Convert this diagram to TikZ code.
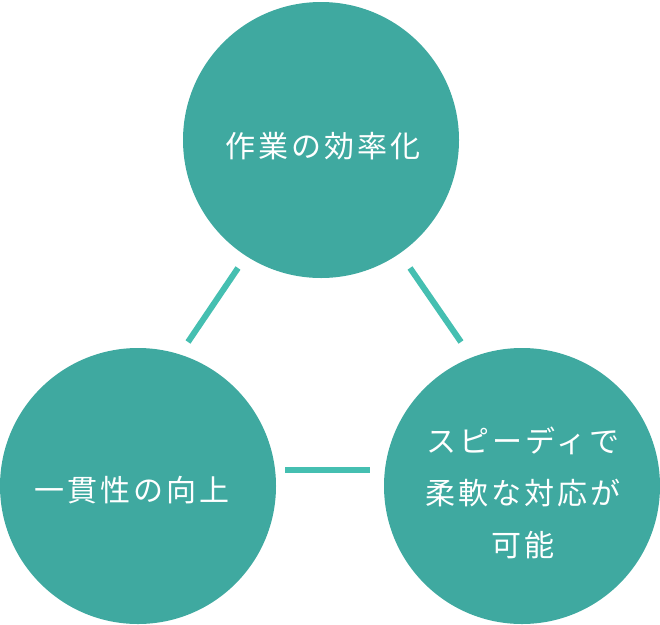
\documentclass[tikz,border=0pt]{standalone}
\usepackage{fontspec}
\newfontfamily\cjk[LetterSpace=10]{Noto Sans CJK JP}
\definecolor{circ}{HTML}{3FA9A0}
\definecolor{conn}{HTML}{45BFB1}
\begin{document}
\begin{tikzpicture}[x=1pt,y=-1pt,
  bubble/.style={circle,fill=circ,minimum size=276pt,inner sep=0pt},
  label/.style={text=white,font=\cjk\fontsize{30}{52}\selectfont,align=center,inner sep=0pt},
  link/.style={draw=conn,line width=6pt}]
\useasboundingbox (0,0) rectangle (660,624);
\node[bubble] (top) at (321,140) {};
\node[bubble] (left) at (138,486) {};
\node[bubble] (right) at (522,486) {};
\node[label] (toptext) at (323,146) {作業の効率化};
\node[label] (lefttext) at (132,490) {一貫性の向上};
\node[label] (righttext) at (523,493) {スピーディで\\柔軟な対応が\\可能};
\coordinate (a1) at (238,268); \coordinate (a2) at (188,342);
\coordinate (b1) at (410,268); \coordinate (b2) at (461,342);
\coordinate (c1) at (285,470); \coordinate (c2) at (370,470);
\draw[link] (a1) -- (a2);
\draw[link] (b1) -- (b2);
\draw[link] (c1) -- (c2);
\end{tikzpicture}
\end{document}
